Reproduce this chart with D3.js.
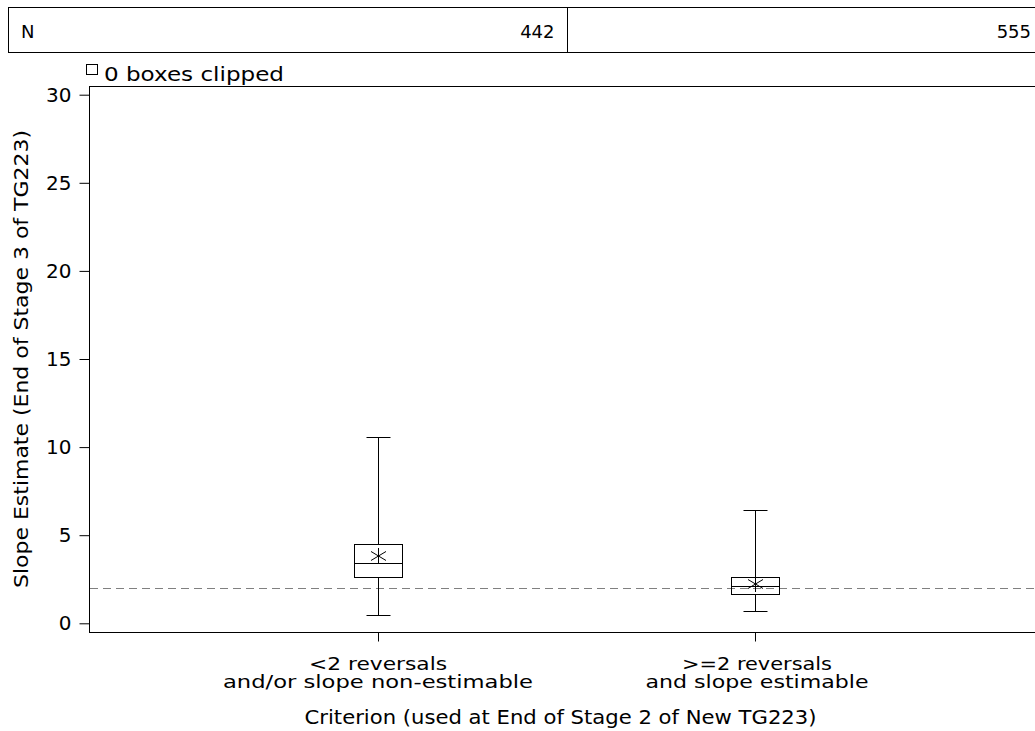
<!DOCTYPE html>
<html>
<head>
<meta charset="utf-8">
<script src="https://cdn.jsdelivr.net/npm/d3@7"></script>
<style>
  body { margin: 0; background: #fff; }
  svg { display: block; }
  text { font-family: "DejaVu Sans", sans-serif; fill: #000; }
</style>
</head>
<body>
<svg id="chart" width="1035" height="731"></svg>
<script>
// chart data
const categories = ["<2 reversals|and/or slope non-estimable", ">=2 reversals|and slope estimable"]
const counts     = [442, 555]
const whiskerLo  = [0.47, 0.68]
const q1         = [2.63, 1.68]
const median     = [3.41, 2.13]
const q3         = [4.52, 2.64]
const whiskerHi  = [10.57, 6.41]
const means      = [3.82, 2.23]
const refLine    = 2
const yTicks     = [0, 5, 10, 15, 20, 25, 30]

const svg = d3.select("#chart")

const frame = { left: 89, top: 86, right: 1044, bottom: 632 }

const x = d3.scalePoint()
    .domain(categories)
    .range([frame.left, frame.right])
    .padding(0.7666)

const y = d3.scaleLinear()
    .domain([0, 30])
    .range([623.3, 94.7])

// stretch a label to the width it has in the reference font
function wide(sel, len) {
  return sel.attr("textLength", len).attr("lengthAdjust", "spacingAndGlyphs")
}

//
// N table on top
//
const table = svg.append("g")
const cellW = x.step()
const tableRight = 1100
table.append("rect")
    .attr("x", 8.5).attr("y", 7.5)
    .attr("width", tableRight - 8).attr("height", 45)
    .attr("fill", "none").attr("stroke", "#000")
table.append("text")
    .attr("x", 21).attr("y", 38)
    .attr("font-size", 18)
    .text("N")
counts.forEach(function(n, i) {
  const last = i === counts.length - 1
  const right = last ? tableRight : x(categories[i]) + cellW / 2
  if (!last)
    table.append("line")
        .attr("x1", Math.round(right) + 0.5).attr("x2", Math.round(right) + 0.5)
        .attr("y1", 7.5).attr("y2", 52.5)
        .attr("stroke", "#000")
  table.append("text")
      .attr("x", Math.min(right - 12, 1031)).attr("y", 38)
      .attr("text-anchor", "end")
      .attr("font-size", 18)
      .text(n)
})

// clipped note
svg.append("rect")
    .attr("x", 86.5).attr("y", 64.5).attr("width", 11).attr("height", 10)
    .attr("fill", "none").attr("stroke", "#000")
wide(svg.append("text")
    .attr("x", 104).attr("y", 81)
    .attr("font-size", 19)
    .text("0 boxes clipped"), 180)

//
// frame and axes
//
svg.append("rect")
    .attr("x", frame.left + 0.5).attr("y", frame.top + 0.5)
    .attr("width", frame.right - frame.left).attr("height", frame.bottom - frame.top)
    .attr("fill", "none").attr("stroke", "#000")

const yAxis = svg.append("g")
    .attr("transform", "translate(" + (frame.left + 0.5) + ",0)")
    .call(d3.axisLeft(y).tickValues(yTicks).tickSize(10).tickPadding(8))
yAxis.select(".domain").remove()
yAxis.selectAll("text").attr("font-size", 20).attr("font-family", "DejaVu Sans, sans-serif")

const xAxis = svg.append("g")
    .attr("transform", "translate(0," + (frame.bottom + 0.5) + ")")
    .call(d3.axisBottom(x).tickSize(9).tickFormat(""))
xAxis.select(".domain").remove()

const catWidths = [[138, 310], [150, 223]]
const catShift = [0, 2]
categories.forEach(function(c, i) {
  const parts = c.split("|")
  parts.forEach(function(p, k) {
    wide(svg.append("text")
        .attr("x", x(c) + catShift[i]).attr("y", 670 + k * 18)
        .attr("text-anchor", "middle")
        .attr("font-size", 17)
        .text(p), catWidths[i][k])
  })
})

wide(svg.append("text")
    .attr("x", (frame.left + frame.right) / 2 - 6).attr("y", 724)
    .attr("text-anchor", "middle")
    .attr("font-size", 19)
    .text("Criterion (used at End of Stage 2 of New TG223)"), 512)

wide(svg.append("text")
    .attr("transform", "translate(28," + ((frame.top + frame.bottom) / 2) + ") rotate(-90)")
    .attr("text-anchor", "middle")
    .attr("font-size", 19)
    .text("Slope Estimate (End of Stage 3 of TG223)"), 458)

// reference line
svg.append("line")
    .attr("x1", frame.left + 1).attr("x2", frame.right)
    .attr("y1", Math.round(y(refLine)) + 0.5).attr("y2", Math.round(y(refLine)) + 0.5)
    .attr("stroke", "#808080")
    .attr("stroke-dasharray", "8,5")

//
// boxes
//
const boxW = 48, capW = 24
const plot = svg.append("g").attr("stroke", "#000").attr("fill", "none")
const px = v => Math.round(v) + 0.5

categories.forEach(function(c, i) {
  const cx = px(x(c))
  plot.append("line")
      .attr("x1", cx).attr("x2", cx)
      .attr("y1", px(y(whiskerHi[i]))).attr("y2", px(y(q3[i])))
  plot.append("line")
      .attr("x1", cx).attr("x2", cx)
      .attr("y1", px(y(q1[i]))).attr("y2", px(y(whiskerLo[i])))
  ;[whiskerHi[i], whiskerLo[i]].forEach(function(v) {
    plot.append("line")
        .attr("x1", cx - capW / 2).attr("x2", cx + capW / 2)
        .attr("y1", px(y(v))).attr("y2", px(y(v)))
  })
  plot.append("rect")
      .attr("x", cx - boxW / 2).attr("y", px(y(q3[i])))
      .attr("width", boxW).attr("height", px(y(q1[i])) - px(y(q3[i])))
  plot.append("line")
      .attr("x1", cx - boxW / 2).attr("x2", cx + boxW / 2)
      .attr("y1", px(y(median[i]))).attr("y2", px(y(median[i])))
  // mean star
  const my = y(means[i]), s = 7.5
  plot.append("path")
      .attr("d", "M" + (cx - s) + "," + (my - 4.5) + "L" + (cx + s) + "," + (my + 4.5) +
                 "M" + (cx - s) + "," + (my + 4.5) + "L" + (cx + s) + "," + (my - 4.5) +
                 "M" + cx + "," + (my - 8) + "L" + cx + "," + (my + 8))
})
</script>
</body>
</html>
